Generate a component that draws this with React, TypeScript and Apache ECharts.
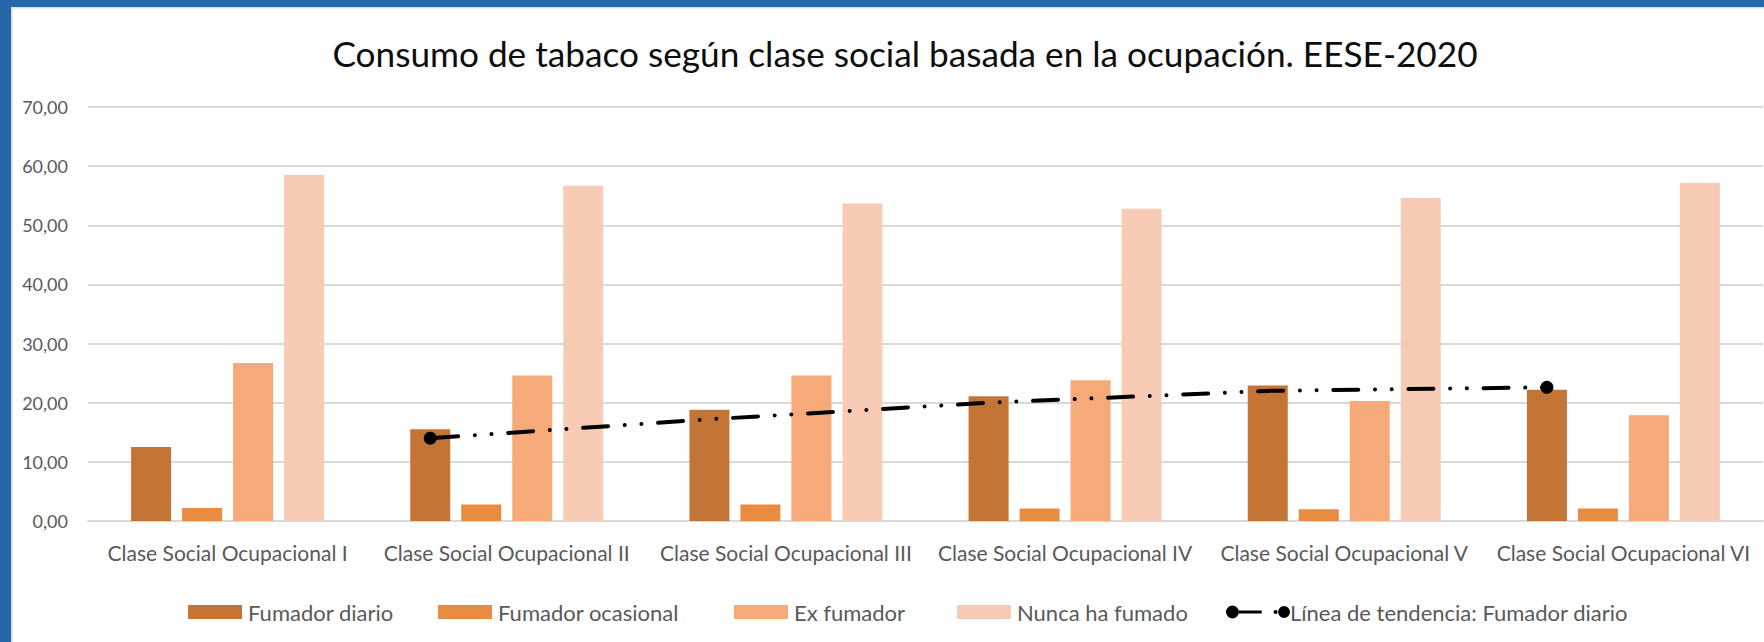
import React, { useEffect, useRef } from "react";
import * as echarts from "echarts";

const CATEGORIES = [
  "Clase Social Ocupacional I",
  "Clase Social Ocupacional II",
  "Clase Social Ocupacional III",
  "Clase Social Ocupacional IV",
  "Clase Social Ocupacional V",
  "Clase Social Ocupacional VI",
];
const SERIES_NAMES = ["Fumador diario", "Fumador ocasional", "Ex fumador", "Nunca ha fumado"];
const FUMADOR_DIARIO = [12.5, 15.5, 18.8, 21.1, 22.9, 22.2];
const FUMADOR_OCASIONAL = [2.2, 2.8, 2.8, 2.1, 2.0, 2.1];
const EX_FUMADOR = [26.7, 24.6, 24.6, 23.8, 20.3, 17.9];
const NUNCA_HA_FUMADO = [58.5, 56.7, 53.7, 52.8, 54.6, 57.2];
const TREND_NAME = "Línea de tendencia: Fumador diario";
const TREND_CATEGORY_INDEX = [1, 2, 3, 4, 5];
const TREND_VALUES = [14.0, 17.2, 20.0, 22.0, 22.6];
const Y_MIN = 0;
const Y_MAX = 70;
const Y_INTERVAL = 10;

// layout / style
const W = 1764;
const H = 642;
const GRID_LEFT = 88;
const GRID_RIGHT = 1;
const GRID_TOP = 107;
const GRID_BOTTOM = 121;
const BAR_W = 40;
const BAR_GAP = 11;
const COLORS = ["#C47535", "#E98C42", "#F7AA79", "#F8CBB4"];
const FONT = "Lato";
const TEXT_GRAY = "#595959";
const FRAME_BLUE = "#2767A9";
const LEGEND_LEFTS = [183, 433, 729, 952];
const LEGEND_LINE_LEFT = 1221;
const LEGEND_TOP = 596;

const LINE_ICON =
  "path://M0,6.5a6.5,6.5 0 1,0 13,0a6.5,6.5 0 1,0 -13,0Z M12.7,5L36,5L36,8L12.7,8Z M48,6.5a2,2 0 1,0 4,0a2,2 0 1,0 -4,0Z M52.5,6.5a6,6 0 1,0 12,0a6,6 0 1,0 -12,0Z";

export default function App() {
  const ref = useRef<HTMLDivElement>(null);
  useEffect(() => {
    document.body.style.margin = "0";
    const chart = echarts.init(ref.current!, undefined, { renderer: "svg" });
    const band = (W - GRID_LEFT - GRID_RIGHT) / CATEGORIES.length;
    const n = SERIES_NAMES.length;
    const firstBarOffsetPx = -(n * BAR_W + (n - 1) * BAR_GAP) / 2 + BAR_W / 2;
    const trendOffset = firstBarOffsetPx / band;
    const seriesValues = [FUMADOR_DIARIO, FUMADOR_OCASIONAL, EX_FUMADOR, NUNCA_HA_FUMADO];

    const trendData = TREND_CATEGORY_INDEX.map((ci, i) => {
      const isEnd = i === 0 || i === TREND_CATEGORY_INDEX.length - 1;
      return {
        value: [ci + trendOffset, TREND_VALUES[i]],
        symbol: isEnd ? "circle" : "none",
      };
    });

    const legendText = { fontFamily: FONT, fontSize: 22, color: TEXT_GRAY };

    chart.setOption({
      animation: false,
      backgroundColor: "#ffffff",
      title: {
        text: "Consumo de tabaco según clase social basada en la ocupación. EESE-2020",
        left: 900,
        top: 30,
        textAlign: "center",
        textStyle: { fontFamily: FONT, fontSize: 35.2, fontWeight: "normal", color: "#0d0d0d" },
      },
      grid: { left: GRID_LEFT, right: GRID_RIGHT, top: GRID_TOP, bottom: GRID_BOTTOM, containLabel: false },
      xAxis: [
        {
          type: "category",
          data: CATEGORIES,
          axisTick: { show: false },
          axisLine: { lineStyle: { color: "#d9d9d9", width: 2 } },
          axisLabel: {
            fontFamily: FONT,
            fontSize: 21,
            color: TEXT_GRAY,
            margin: 21,
            interval: 0,
          },
        },
        { type: "value", min: -0.5, max: CATEGORIES.length - 0.5, show: false },
      ],
      yAxis: {
        type: "value",
        min: Y_MIN,
        max: Y_MAX,
        interval: Y_INTERVAL,
        axisLine: { show: false },
        axisTick: { show: false },
        splitLine: { lineStyle: { color: "#d9d9d9", width: 2 } },
        axisLabel: {
          fontFamily: FONT,
          fontSize: 18,
          color: TEXT_GRAY,
          margin: 20,
          formatter: (v: number) => v.toFixed(2).replace(".", ","),
        },
      },
      legend: [
        ...SERIES_NAMES.map((name, i) => ({
          data: [{ name, icon: "rect" }],
          left: LEGEND_LEFTS[i],
          top: LEGEND_TOP,
          itemWidth: 54,
          itemHeight: 14,
          textStyle: { ...legendText, padding: [0, 0, 0, 1] },
        })),
        {
          data: [{ name: TREND_NAME, icon: LINE_ICON }],
          left: LEGEND_LINE_LEFT,
          top: LEGEND_TOP,
          itemWidth: 64,
          itemHeight: 13,
          textStyle: { ...legendText, padding: [0, 0, 0, -5] },
        },
      ],
      graphic: [
        { type: "rect", shape: { x: 0, y: 0, width: W, height: 7 }, style: { fill: FRAME_BLUE }, z: 100 },
        { type: "rect", shape: { x: 0, y: 0, width: 11, height: H }, style: { fill: FRAME_BLUE }, z: 100 },
        { type: "rect", shape: { x: 11, y: 7, width: 1.5, height: H - 7 }, style: { fill: "#d5dce6" }, z: 100 },
        { type: "rect", shape: { x: 11, y: 7, width: W - 11, height: 1.5 }, style: { fill: "#d5dce6" }, z: 100 },
      ],
      series: [
        ...SERIES_NAMES.map((name, i) => ({
          name,
          type: "bar",
          data: seriesValues[i],
          barWidth: BAR_W,
          barGap: `${(BAR_GAP / BAR_W) * 100}%`,
          itemStyle: { color: COLORS[i] },
        })),
        {
          name: TREND_NAME,
          type: "line",
          xAxisIndex: 1,
          data: trendData,
          symbolSize: 13,
          itemStyle: { color: "#000000" },
          lineStyle: {
            color: "#000000",
            width: 4,
            type: [25, 16.7, 0.01, 16.7, 0.01, 16.7],
            cap: "round",
            dashOffset: -3,
          },
          z: 10,
        },
      ],
    });
    return () => chart.dispose();
  }, []);
  return <div ref={ref} style={{ position: "fixed", left: 0, top: 0, width: W, height: H }} />;
}
